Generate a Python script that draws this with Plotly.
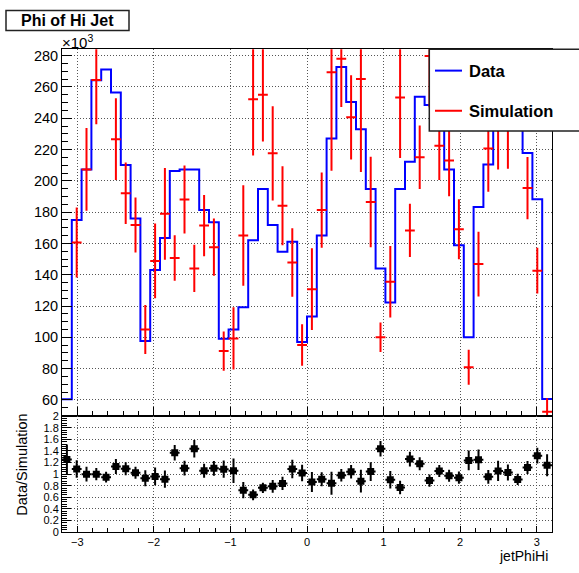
import numpy as np
import plotly.graph_objects as go

W, H = 579, 573

# Binning of jetPhiHi
n_bins = 50
phi_lo, phi_hi = -3.2, 3.2

# Entries per bin, in thousands
data_k = [60.4, 175.0, 207.3, 264.2, 271.1, 256.5, 210.1, 176.0, 97.6, 143.0,
          163.4, 206.3, 207.3, 207.3, 181.3, 173.5, 99.1, 105.0, 119.2, 162.0,
          194.8, 171.8, 154.7, 161.0, 97.0, 113.3, 165.0, 227.0, 272.8, 250.4,
          232.9, 194.8, 144.0, 122.3, 194.8, 212.2, 253.7, 248.5, 234.0, 207.3,
          158.9, 100.1, 183.3, 210.5, 262.0, 246.7, 238.0, 217.8, 188.2, 60.6]

sim_k = [48.2, 160.6, 207.3, 264.4, 286.0, 226.6, 192.1, 171.8, 105.0, 148.8,
         178.9, 150.7, 188.1, 144.0, 171.4, 157.6, 91.2, 99.3, 165.1, 252.1,
         255.0, 217.6, 184.1, 147.8, 95.1, 130.8, 181.3, 269.4, 278.0, 240.6,
         265.0, 186.5, 100.1, 135.5, 253.3, 168.3, 215.1, 279.8, 222.4, 213.0,
         169.1, 80.9, 146.8, 220.7, 248.0, 240.0, 262.0, 195.4, 142.6, 52.5]

sim_err_k = [9.9, 22.4, 26.4, 28.2, 28.0, 26.1, 19.6, 17.6, 15.6, 23.9,
             29.3, 14.6, 21.7, 15.1, 19.6, 18.3, 12.5, 19.9, 32.1, 35.9,
             29.9, 30.1, 25.2, 21.9, 13.3, 26.1, 24.0, 63.0, 30.9, 26.9,
             59.4, 28.9, 9.4, 22.8, 38.7, 17.0, 20.3, 32.8, 21.9, 22.8,
             19.2, 11.2, 20.7, 27.6, 40.7, 32.3, 28.0, 19.9, 14.6, 8.6]

y_ticks_top = [60, 80, 100, 120, 140, 160, 180, 200, 220, 240, 260, 280]

edges = np.linspace(phi_lo, phi_hi, n_bins + 1)
centers = 0.5 * (edges[:-1] + edges[1:])
half_w = 0.5 * (edges[1] - edges[0])

data = np.array(data_k)
sim = np.array(sim_k)
sim_err = np.array(sim_err_k)
ratio = data / sim
ratio_err = ratio * sim_err / sim

y_lo, y_hi = 49.6, 284.0
# bins whose content lies outside the frame are not drawn (ROOT "E" style)
shown = (sim >= y_lo) & (sim <= y_hi)

FONT = "Liberation Sans, Arial, Helvetica, sans-serif"


def fx(px):
    return px / W


def fy(py):
    return 1 - py / H


fig = go.Figure()

# Data histogram as a step line
step_x = list(edges)
step_y = list(data) + [data[-1]]
fig.add_trace(go.Scatter(
    x=step_x, y=step_y, mode="lines", line=dict(shape="hv", color="#0000ff", width=2),
    name="Data", showlegend=False, xaxis="x", yaxis="y", hoverinfo="skip"))

# Simulation with error crosses
fig.add_trace(go.Scatter(
    x=centers[shown], y=sim[shown], mode="markers",
    marker=dict(size=1, color="#ff0000"),
    error_y=dict(type="data", array=sim_err[shown], color="#ff0000", thickness=2, width=0),
    error_x=dict(type="data", array=[half_w] * int(shown.sum()), color="#ff0000",
                 thickness=2, width=0),
    name="Simulation", showlegend=False, xaxis="x", yaxis="y"))

# Ratio panel
fig.add_trace(go.Scatter(
    x=centers, y=ratio, mode="markers",
    marker=dict(symbol="square", size=7, color="#000000"),
    error_y=dict(type="data", array=ratio_err, color="#000000", thickness=2, width=0),
    error_x=dict(type="data", array=[half_w] * n_bins, color="#000000", thickness=2, width=0),
    showlegend=False, xaxis="x2", yaxis="y2"))

x_dom = [fx(62), fx(552)]
top_dom = [fy(419), fy(44.3)]
bot_dom = [fy(537.3), fy(419)]

frame = dict(showline=True, linecolor="#000", linewidth=1, mirror=True, zeroline=False,
             showgrid=True, gridcolor="#555", gridwidth=1, griddash="1px,2px",
             ticks="inside", tickcolor="#000", tickwidth=1)

fig.update_layout(
    width=W, height=H, margin=dict(l=0, r=0, t=0, b=0),
    paper_bgcolor="white", plot_bgcolor="white",
    font=dict(family=FONT, color="#000"),
    xaxis=dict(domain=x_dom, range=[phi_lo, phi_hi], anchor="y",
               tick0=0, dtick=1, ticklen=9, showticklabels=False,
               minor=dict(ticks="inside", tick0=0, dtick=0.2, ticklen=5,
                          tickcolor="#000", showgrid=False),
               **frame),
    yaxis=dict(domain=top_dom, range=[y_lo, y_hi], anchor="x",
               tickvals=y_ticks_top, ticktext=[str(v) for v in y_ticks_top], ticklen=10,
               tickfont=dict(size=14.5),
               minor=dict(ticks="inside", tick0=0, dtick=5, ticklen=6,
                          tickcolor="#000", showgrid=False),
               **frame),
    xaxis2=dict(domain=x_dom, range=[phi_lo, phi_hi], anchor="y2",
                tick0=0, dtick=1, ticklen=6, tickfont=dict(size=11),
                minor=dict(ticks="inside", tick0=0, dtick=0.2, ticklen=4,
                           tickcolor="#000", showgrid=False),
                **frame),
    yaxis2=dict(domain=bot_dom, range=[0, 2.0001], anchor="x2",
                tick0=0, dtick=0.2, ticklen=9, tickfont=dict(size=11),
                minor=dict(ticks="inside", tick0=0, dtick=0.04, ticklen=5,
                           tickcolor="#000", showgrid=False),
                **frame),
)

shapes = [
    # title box
    dict(type="rect", xref="paper", yref="paper", x0=fx(6), x1=fx(129), y0=fy(25), y1=fy(4.7),
         line=dict(color="#222", width=1.5), fillcolor="white", layer="above"),
    # legend box
    dict(type="rect", xref="paper", yref="paper", x0=fx(429.3), x1=fx(582), y0=fy(127.7),
         y1=fy(44.3), line=dict(color="#222", width=1.5), fillcolor="white", layer="above"),
    dict(type="line", xref="paper", yref="paper", x0=fx(435), x1=fx(462), y0=fy(66), y1=fy(66),
         line=dict(color="#0000ff", width=2), layer="above"),
    dict(type="line", xref="paper", yref="paper", x0=fx(435), x1=fx(462), y0=fy(107), y1=fy(107),
         line=dict(color="#ff0000", width=2), layer="above"),
]

annotations = [
    dict(text="<b>Phi of Hi Jet</b>", x=fx(67.5), y=fy(15), xref="paper", yref="paper",
         xanchor="center", yanchor="middle", showarrow=False, font=dict(size=16)),
    dict(text="×10<sup>3</sup>", x=fx(60), y=fy(36), xref="paper", yref="paper",
         xanchor="left", yanchor="middle", showarrow=False, font=dict(size=15)),
    dict(text="<b>Data</b>", x=fx(467), y=fy(66), xref="paper", yref="paper",
         xanchor="left", yanchor="middle", showarrow=False, font=dict(size=16.5)),
    dict(text="<b>Simulation</b>", x=fx(467), y=fy(107), xref="paper", yref="paper",
         xanchor="left", yanchor="middle", showarrow=False, font=dict(size=16.5)),
    dict(text="Data/Simulation", x=fx(22.5), y=fy(469), xref="paper", yref="paper",
         xanchor="center", yanchor="middle", textangle=-90, showarrow=False,
         font=dict(size=14.5)),
    dict(text="jetPhiHi", x=fx(550), y=fy(562), xref="paper", yref="paper",
         xanchor="right", yanchor="middle", showarrow=False, font=dict(size=14)),
]

fig.update_layout(shapes=shapes, annotations=annotations)

fig.write_html("out.html")
